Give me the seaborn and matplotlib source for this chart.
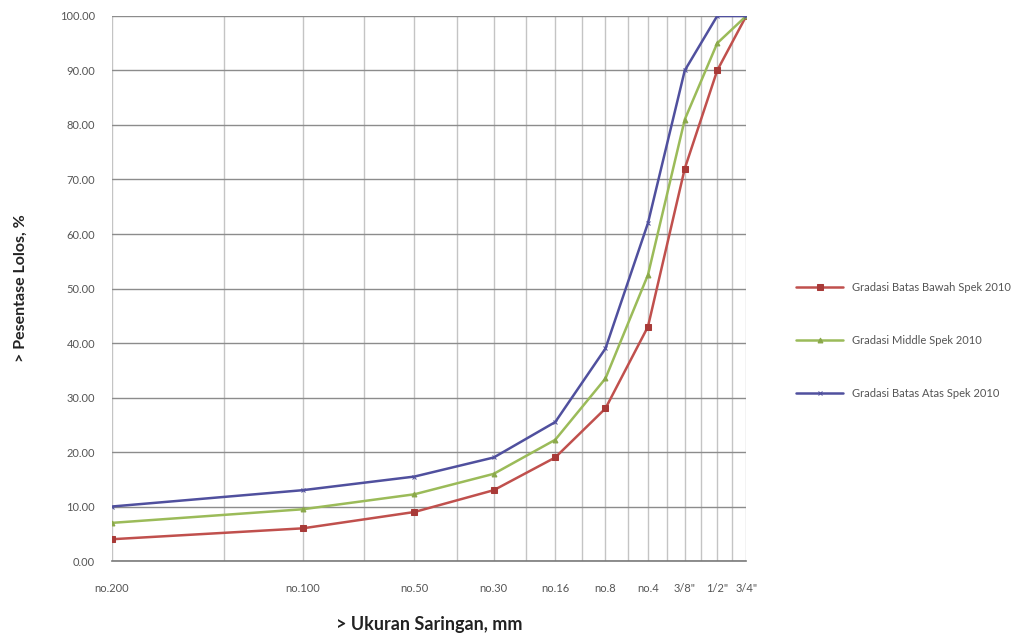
import numpy as np
import pandas as pd
import matplotlib
matplotlib.use('Agg')
import matplotlib.pyplot as plt
import seaborn as sns

# ukuran saringan (urutan posisi pada sumbu x)
saringan = ['no.200', 'no.100', 'no.50', 'no.30', 'no.16', 'no.8', 'no.4', '3/8"', '1/2"', '3/4"']
posisi = [1, 2, 3, 4, 5, 6, 7, 8, 9, 10]

batas_bawah = [4, 6, 9, 13, 19, 28, 43, 72, 90, 100]
middle = [7, 9.5, 12.25, 16, 22.25, 33.5, 52.5, 81, 95, 100]
batas_atas = [10, 13, 15.5, 19, 25.5, 39, 62, 90, 100, 100]

df = pd.DataFrame({
    'posisi': posisi * 3,
    'lolos': batas_bawah + middle + batas_atas,
    'seri': ['Gradasi Batas Bawah Spek 2010'] * 10
            + ['Gradasi Middle Spek 2010'] * 10
            + ['Gradasi Batas Atas Spek 2010'] * 10,
})

sns.set_style('white')
plt.rcParams['font.family'] = ['Lato', 'DejaVu Sans']

fig = plt.figure(figsize=(10.35, 6.39), dpi=100)
ax = fig.add_axes([0.108, 0.122, 0.613, 0.853])

gaya = {
    'Gradasi Batas Bawah Spek 2010': dict(color='#c0504d', marker='s', ms=5, mfc='#a83a38', mec='#a83a38'),
    'Gradasi Middle Spek 2010': dict(color='#9bbb59', marker='^', ms=3.5, mfc='#8aa84a', mec='#8aa84a'),
    'Gradasi Batas Atas Spek 2010': dict(color='#50509e', marker='x', ms=3.5, mfc='#50509e', mec='#50509e'),
}

for seri, g in gaya.items():
    d = df[df['seri'] == seri]
    sns.lineplot(data=d, x='posisi', y='lolos', ax=ax, label=seri, lw=1.8,
                 color=g['color'], marker=g['marker'], markersize=g['ms'],
                 markerfacecolor=g['mfc'], markeredgecolor=g['mec'], zorder=3)

ax.set_xscale('log')
ax.set_xlim(1, 10)
ax.set_ylim(0, 100)
ax.set_xticks(posisi)
ax.set_xticklabels(saringan)
ax.set_xticks([p + 0.5 for p in posisi[:-1]], minor=True)
ax.xaxis.set_minor_formatter(matplotlib.ticker.NullFormatter())
ax.set_yticks(np.arange(0, 101, 10))
ax.set_yticklabels([f'{v:.2f}' for v in np.arange(0, 101, 10)])

ax.grid(True, which='major', axis='y', color='#8c8c8c', lw=1)
ax.grid(True, which='both', axis='x', color='#c4c4c4', lw=1)
ax.tick_params(axis='both', which='both', length=0, labelsize=8, labelcolor='#555555')
ax.tick_params(axis='x', pad=16)
ax.tick_params(axis='y', pad=12)

for s in ['top', 'right', 'left']:
    ax.spines[s].set_visible(False)
ax.spines['bottom'].set_color('#7a7a7a')
ax.spines['bottom'].set_linewidth(1.2)

ax.set_xlabel('> Ukuran Saringan, mm', fontsize=13, fontweight='bold', color='#222222', labelpad=16)
ax.set_ylabel('> Pesentase Lolos, %', fontsize=11.5, fontweight='bold', color='#222222', labelpad=23)

leg = ax.legend(loc='center left', bbox_to_anchor=(1.063, 0.405), frameon=False,
                fontsize=8, labelspacing=3.8, handlelength=4.2)
for t in leg.get_texts():
    t.set_color('#555555')

fig.savefig('out.png', dpi=100)
